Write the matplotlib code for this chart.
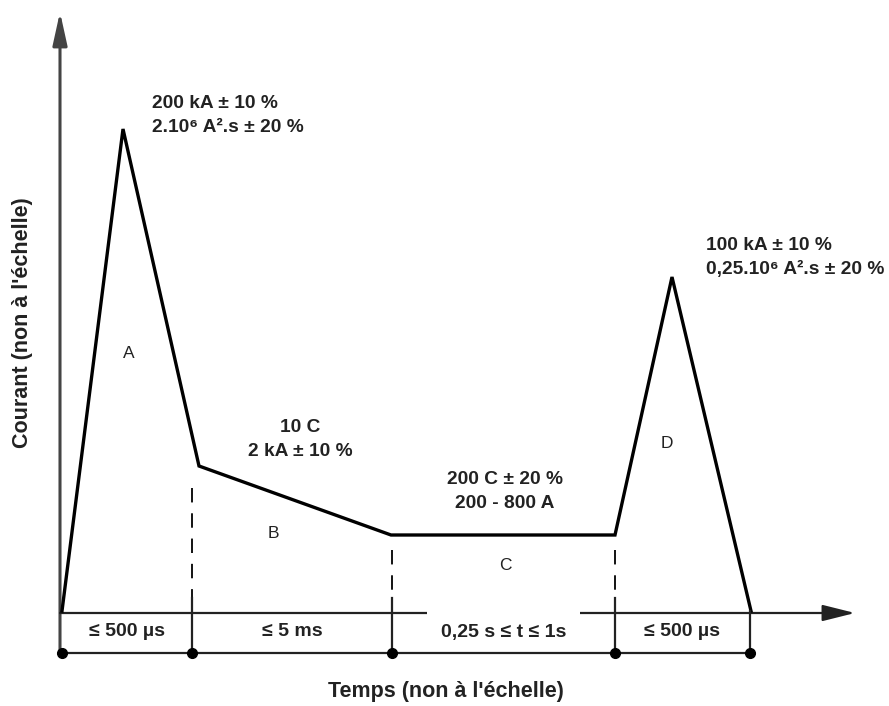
import matplotlib.pyplot as plt

plt.rcParams['font.family'] = ['Liberation Sans', 'DejaVu Sans']

# waveform (schematic units, not to scale)
wave_t = [2, 63, 139, 331, 555, 612, 691]
wave_i = [2, 484, 147, 78, 78, 336, 2]

# phase boundaries on the time axis
bounds_t = [2, 132, 332, 555, 690]
phase_names = ['A', 'B', 'C', 'D']
phase_name_t = [69, 213, 445, 607]
phase_name_i = [260, 80, 48, 170]
durations = ['≤ 500 µs', '≤ 5 ms', '0,25 s ≤ t ≤ 1s', '≤ 500 µs']

# specs written next to each phase
spec_lines = [
    ['200 kA ± 10 %', '2.10⁶ A².s ± 20 %'],
    ['10 C', '2 kA ± 10 %'],
    ['200 C ± 20 %', '200 - 800 A'],
    ['100 kA ± 10 %', '0,25.10⁶ A².s ± 20 %'],
]
spec_t = [92, 240, 445, 646]
spec_i = [510, 186, 134, 368]
spec_ha = ['left', 'center', 'center', 'left']

fig = plt.figure(figsize=(8.89, 7.06), dpi=100)
ax = fig.add_axes([0, 0, 1, 1])
ax.set_xlim(-60, 829)
ax.set_ylim(-93, 613)
ax.axis('off')

# axes with arrows
ax.annotate('', xy=(0, 601), xytext=(0, -40), zorder=2,
            arrowprops=dict(arrowstyle='-|>,head_length=1.0,head_width=0.22',
                            color='#444444', lw=2.2, mutation_scale=20,
                            shrinkA=0, shrinkB=0))
ax.annotate('', xy=(795, 0), xytext=(0, 0), zorder=2,
            arrowprops=dict(arrowstyle='-|>,head_length=1.0,head_width=0.25',
                            color='#222222', lw=1.6, mutation_scale=20,
                            shrinkA=0, shrinkB=0))

# current waveform
ax.plot(wave_t, wave_i, color='black', lw=2.4, solid_joinstyle='miter', zorder=4)

# dashed separators between phases
dash_top = [125, 63, 63]
for t, top in zip(bounds_t[1:4], dash_top):
    ax.plot([t, t], [top, 15], color='black', lw=1.3, ls=(0, (8, 6)))

# dimension line with ticks and dots
ax.plot([bounds_t[0], bounds_t[-1]], [-40, -40], color='#222222', lw=1.6, zorder=4)
for t in bounds_t[1:]:
    ax.plot([t, t], [15 if t != bounds_t[-1] else 2, -40], color='#222222', lw=1.6, zorder=4)
ax.plot(bounds_t, [-40] * len(bounds_t), 'o', color='black', ms=7, zorder=5)

for k, label in enumerate(durations):
    mid = (bounds_t[k] + bounds_t[k + 1]) / 2
    bbox = dict(boxstyle='square,pad=0.72', facecolor='white', edgecolor='none') if k == 2 else None
    ax.text(mid, -19, label, ha='center', va='center', fontsize=14,
            fontweight='bold', color='#222222', bbox=bbox, zorder=3)

for name, t, i in zip(phase_names, phase_name_t, phase_name_i):
    ax.text(t, i, name, ha='center', va='center', fontsize=12.5, color='#222222')

for lines, t, i, ha in zip(spec_lines, spec_t, spec_i, spec_ha):
    for n, line in enumerate(lines):
        ax.text(t, i - n * 24, line, ha=ha, va='center', fontsize=13.8,
                fontweight='bold', color='#222222')

ax.text(386, -79, "Temps (non à l'échelle)", ha='center', va='center',
        fontsize=15.5, fontweight='bold', color='#222222')
ax.text(-37, 290, "Courant (non à l'échelle)", ha='center', va='center',
        rotation=90, fontsize=15.5, fontweight='bold', color='#222222')

fig.savefig('out.png', dpi=100)
